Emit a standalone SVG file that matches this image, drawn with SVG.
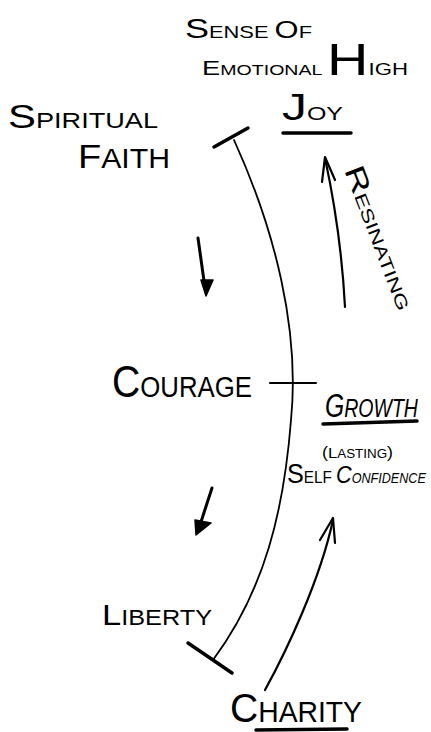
<svg xmlns="http://www.w3.org/2000/svg" width="431" height="732" viewBox="0 0 431 732">
<style>
  text { font-family: "Liberation Sans", "DejaVu Sans", sans-serif; fill: #000; }
  .ln { fill: none; stroke: #000; stroke-linecap: round; stroke-linejoin: round; }
  .arc { stroke-width: 1.8; }
  .tick { stroke-width: 3.5; }
  .arr { stroke-width: 2.2; }
  .ul { stroke-width: 3.5; }
  .it { font-style: italic; }
</style>
<rect width="431" height="732" fill="#fff"/>

<g id="connectors">
  <path class="ln arc" d="M234,140 C275,230 300,330 291,420 C284,510 265,590 213,660"/>
  <path class="ln tick" d="M214,147 L248,128"/>
  <path class="ln arr" d="M270,383 L316,383"/>
  <path class="ln tick" d="M188,643 L232,673"/>
  <path class="ln arr" d="M345,307 C342,250 334,200 325,158"/>
  <path class="ln arr" d="M322,182 L325,157 L335,180"/>
  <path class="ln" stroke-width="3" d="M198,238 L205,288"/>
  <path d="M201,280 L213,280 L206,296 Z" fill="#000" stroke="#000" stroke-width="1.5" stroke-linejoin="round"/>
  <path class="ln" stroke-width="3" d="M212,488 L199,528"/>
  <path d="M195,520 L211,523 L196,535 Z" fill="#000" stroke="#000" stroke-width="1.5" stroke-linejoin="round"/>
  <path class="ln arr" d="M265,690 C287,650 320,580 333,520"/>
  <path class="ln arr" d="M320,540 L333,518 L335,543"/>
</g>

<g id="sense-of-emotional-high">
  <text x="185" y="38" textLength="127" lengthAdjust="spacingAndGlyphs"><tspan font-size="28">S</tspan><tspan font-size="17">ENSE </tspan><tspan font-size="24">O</tspan><tspan font-size="17">F</tspan></text>
  <text x="202" y="75" textLength="206" lengthAdjust="spacingAndGlyphs"><tspan font-size="21">E</tspan><tspan font-size="15">MOTIONAL </tspan><tspan font-size="44">H</tspan><tspan font-size="17">IGH</tspan></text>
</g>

<g id="joy">
  <text x="282" y="120" textLength="61" lengthAdjust="spacingAndGlyphs"><tspan font-size="36">J</tspan><tspan font-size="18">OY</tspan></text>
  <path class="ln ul" d="M283,133 L351,133"/>
</g>

<g id="spiritual-faith">
  <text x="8" y="128" textLength="150" lengthAdjust="spacingAndGlyphs"><tspan font-size="34">S</tspan><tspan font-size="22">PIRITUAL</tspan></text>
  <text x="78" y="168" textLength="92" lengthAdjust="spacingAndGlyphs"><tspan font-size="34">F</tspan><tspan font-size="27">AITH</tspan></text>
</g>

<g id="resinating">
  <text transform="translate(344,170) rotate(69)" x="0" y="0" textLength="152" lengthAdjust="spacingAndGlyphs"><tspan font-size="28">R</tspan><tspan font-size="17">ESINATING</tspan></text>
</g>

<g id="courage">
  <text x="112" y="397" textLength="140" lengthAdjust="spacingAndGlyphs"><tspan font-size="44">C</tspan><tspan font-size="29">OURAGE</tspan></text>
</g>

<g id="growth">
  <text class="it" transform="translate(325,417) scale(0.75,1)" x="0" y="0"><tspan font-size="33">G</tspan><tspan font-size="26">ROWTH</tspan></text>
  <path class="ln ul" d="M323,424 L417,421"/>
  <text x="322" y="458" textLength="71" lengthAdjust="spacingAndGlyphs"><tspan font-size="16">(</tspan><tspan font-size="15">L</tspan><tspan font-size="12">ASTING</tspan><tspan font-size="16">)</tspan></text>
  <text transform="translate(287,483) scale(0.9,1)" x="0" y="0"><tspan font-size="28">S</tspan><tspan font-size="17">ELF </tspan><tspan class="it" font-size="24">C</tspan><tspan class="it" font-size="14">ONFIDENCE</tspan></text>
</g>

<g id="liberty">
  <text x="102" y="625" textLength="110" lengthAdjust="spacingAndGlyphs"><tspan font-size="30">L</tspan><tspan font-size="22">IBERTY</tspan></text>
</g>

<g id="charity">
  <text x="230" y="722" textLength="132" lengthAdjust="spacingAndGlyphs"><tspan font-size="40">C</tspan><tspan font-size="29">HARITY</tspan></text>
  <path class="ln ul" d="M256,730 L347,729"/>
</g>
</svg>
